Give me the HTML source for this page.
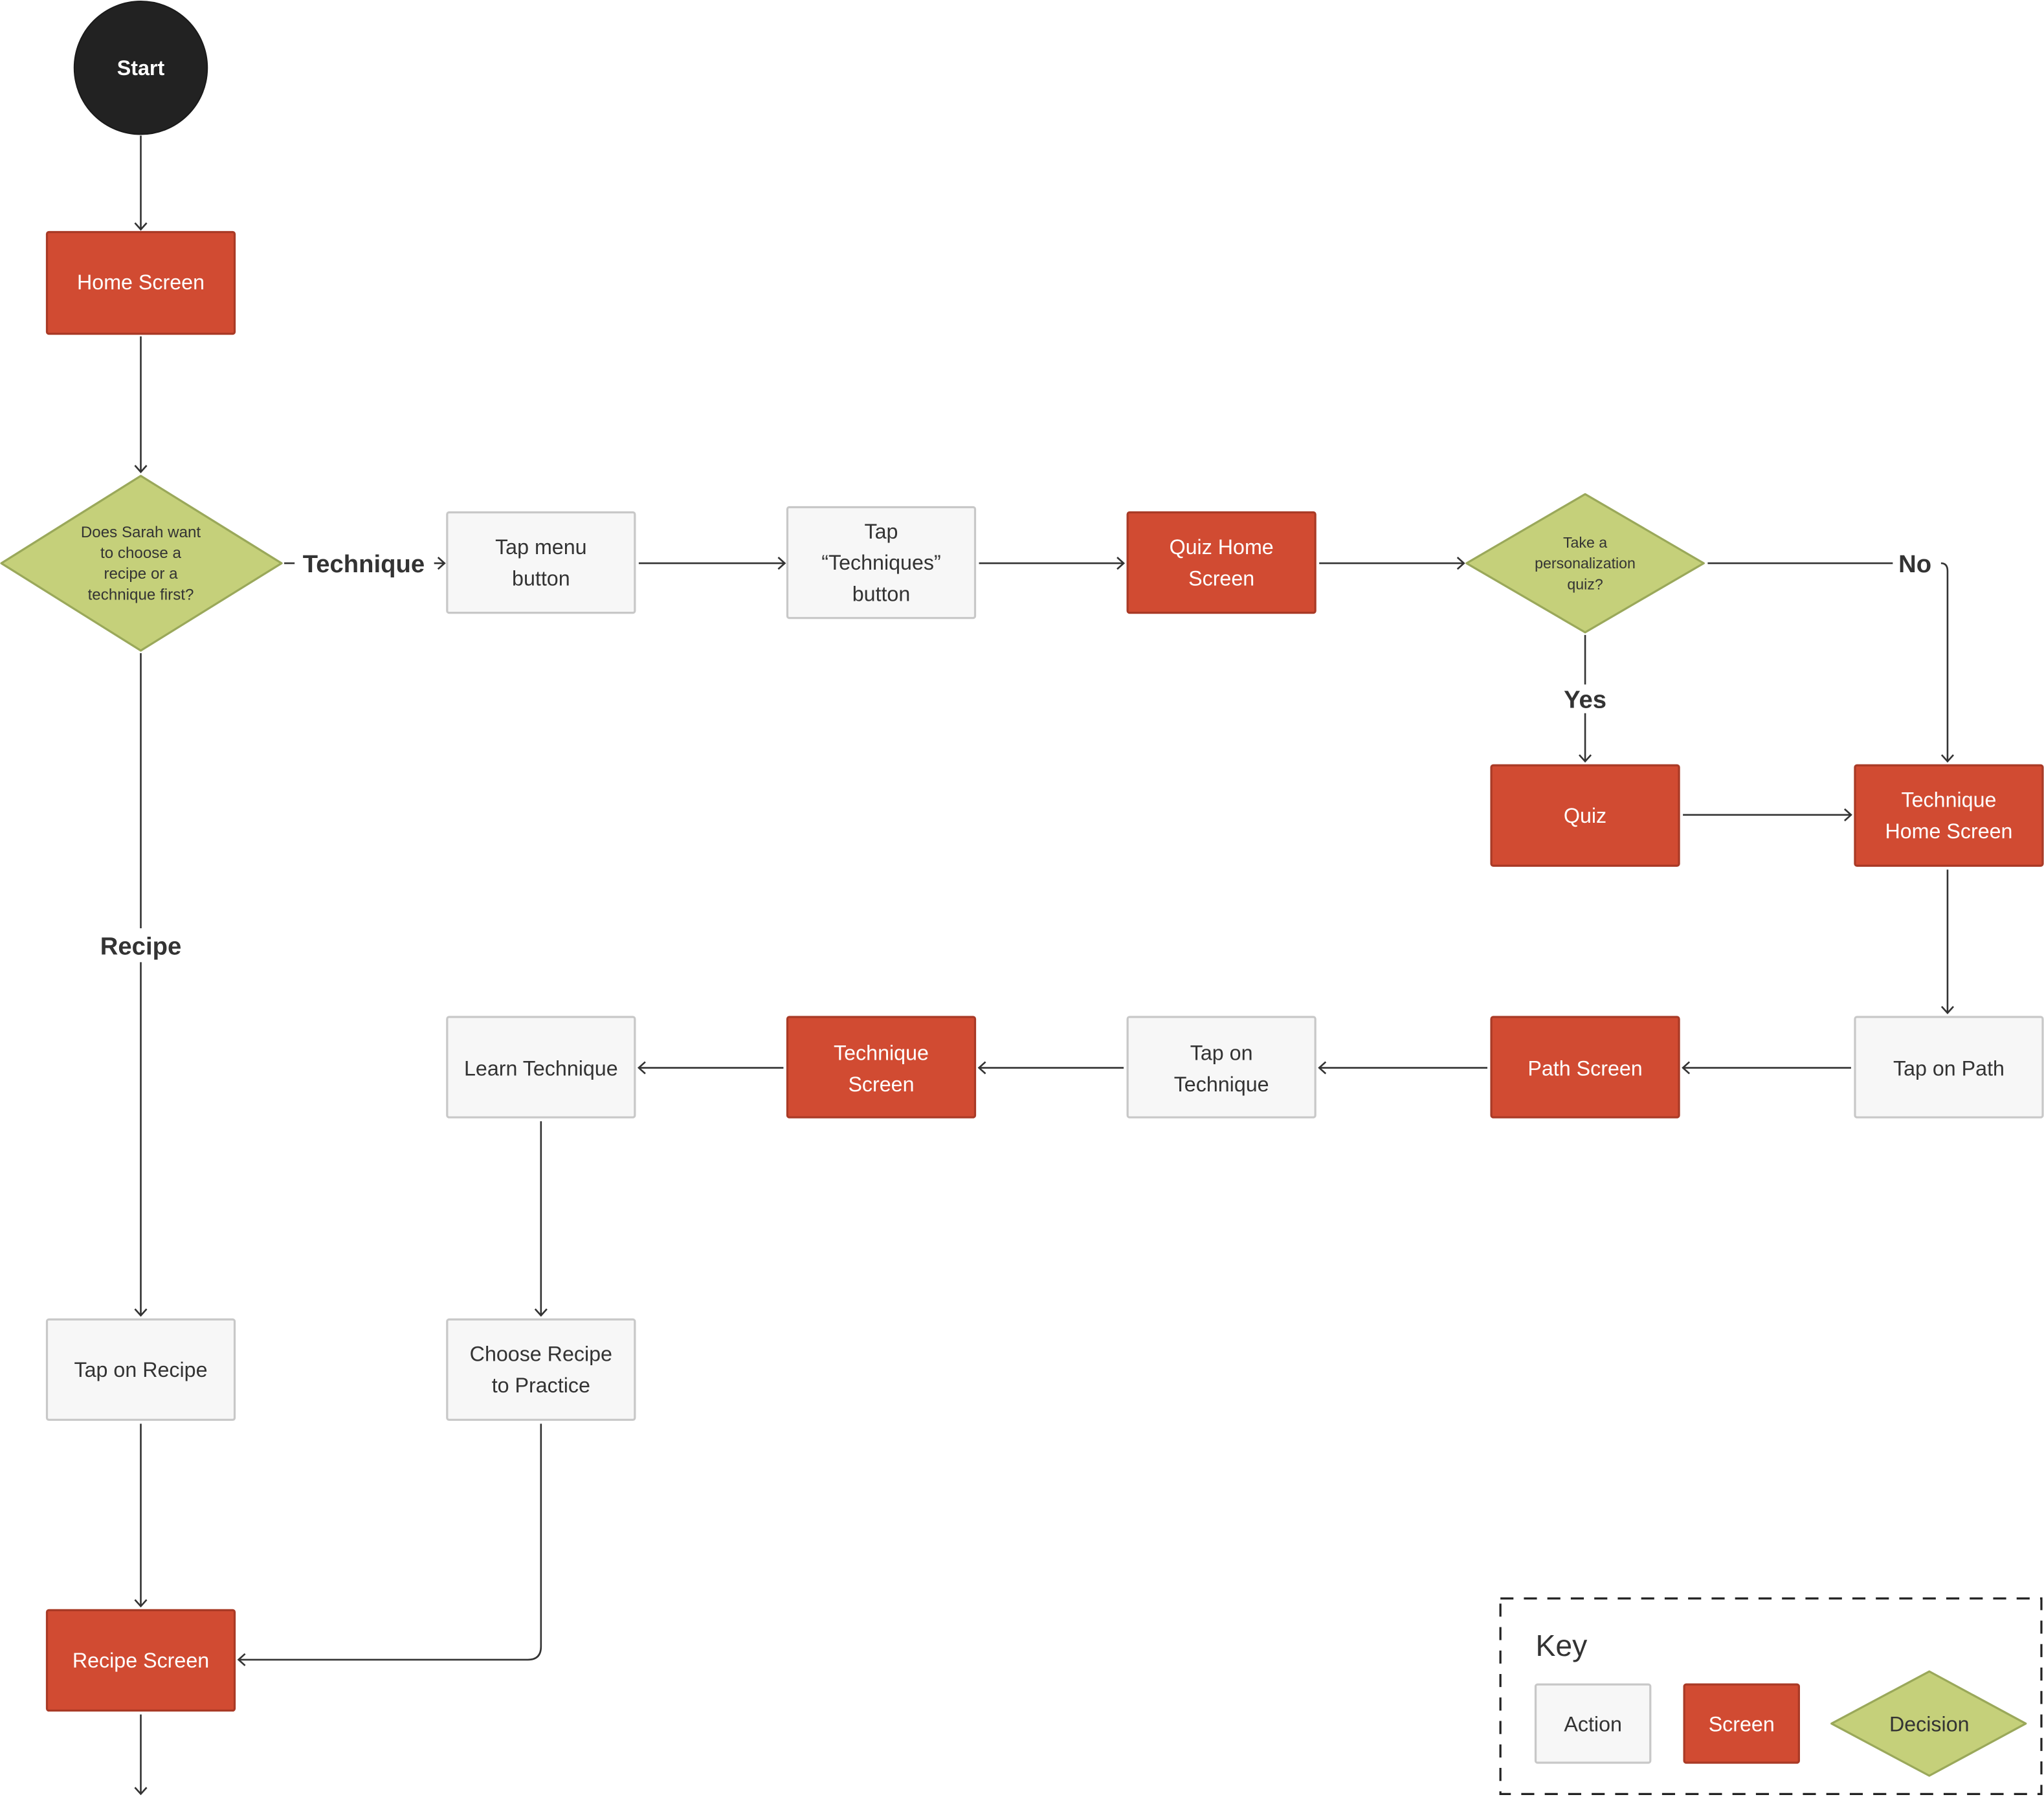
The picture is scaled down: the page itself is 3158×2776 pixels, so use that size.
<!DOCTYPE html>
<html><head><meta charset="utf-8"><style>
html,body{margin:0;padding:0;background:#fff}
svg{display:block}
text{font-family:"Liberation Sans",sans-serif;fill:#333}
.w{fill:#fff}
</style></head><body>
<svg width="3158" height="2776" viewBox="0 0 1568 1378.3" xmlns="http://www.w3.org/2000/svg">
<defs>
<marker id="a" markerUnits="userSpaceOnUse" markerWidth="12" markerHeight="12" refX="6" refY="5" orient="auto">
<path d="M1,0.5 L6,5 L1,9.5" fill="none" stroke="#333" stroke-width="1.3"/>
</marker>
</defs>
<g fill="none" stroke="#333" stroke-width="1.3">
<path d="M108,104 V176" marker-end="url(#a)"/>
<path d="M108,258 V362" marker-end="url(#a)"/>
<path d="M218,432 H226"/>
<path d="M333,432 H341" marker-end="url(#a)"/>
<path d="M490,432 H602" marker-end="url(#a)"/>
<path d="M751,432 H862" marker-end="url(#a)"/>
<path d="M1012,432 H1123" marker-end="url(#a)"/>
<path d="M1310,432 H1452"/>
<path d="M1489,432 Q1494,432 1494,438 V584" marker-end="url(#a)"/>
<path d="M1216,487 V525"/>
<path d="M1216,547 V584" marker-end="url(#a)"/>
<path d="M1291,625 H1420" marker-end="url(#a)"/>
<path d="M1494,667 V777" marker-end="url(#a)"/>
<path d="M1420,819 H1291" marker-end="url(#a)"/>
<path d="M1141,819 H1012" marker-end="url(#a)"/>
<path d="M862,819 H751" marker-end="url(#a)"/>
<path d="M601,819 H490" marker-end="url(#a)"/>
<path d="M415,860 V1009" marker-end="url(#a)"/>
<path d="M415,1092 V1263 Q415,1273 405,1273 H183" marker-end="url(#a)"/>
<path d="M108,501 V712"/>
<path d="M108,738 V1009" marker-end="url(#a)"/>
<path d="M108,1092 V1232" marker-end="url(#a)"/>
<path d="M108,1315 V1376" marker-end="url(#a)"/>
</g>
<circle cx="108" cy="52" r="51" fill="#222" stroke="#1a1a1a" stroke-width="1"/>
<text x="108" y="57.5" text-anchor="middle" font-size="16" font-weight="bold" class="w">Start</text>
<g stroke-width="1.6">
<g fill="#d14b32" stroke="#a93a26">
<rect x="36" y="178" width="144" height="78" rx="1.5"/>
<rect x="865" y="393" width="144" height="77" rx="1.5"/>
<rect x="1144" y="587" width="144" height="77" rx="1.5"/>
<rect x="1423" y="587" width="144" height="77" rx="1.5"/>
<rect x="1144" y="780" width="144" height="77" rx="1.5"/>
<rect x="604" y="780" width="144" height="77" rx="1.5"/>
<rect x="36" y="1235" width="144" height="77" rx="1.5"/>
<rect x="1292" y="1292" width="88" height="60" rx="1.5"/>
</g>
<g fill="#f7f7f7" stroke="#c8c8c8">
<rect x="343" y="393" width="144" height="77" rx="1.5"/>
<rect x="604" y="389" width="144" height="85" rx="1.5"/>
<rect x="1423" y="780" width="144" height="77" rx="1.5"/>
<rect x="865" y="780" width="144" height="77" rx="1.5"/>
<rect x="343" y="780" width="144" height="77" rx="1.5"/>
<rect x="36" y="1012" width="144" height="77" rx="1.5"/>
<rect x="343" y="1012" width="144" height="77" rx="1.5"/>
<rect x="1178" y="1292" width="88" height="60" rx="1.5"/>
</g>
<g fill="#c5d07a" stroke="#9aa85a" stroke-linejoin="round">
<polygon points="108,365 216,432 108,499 1,432"/>
<polygon points="1216,379 1307,432 1216,485 1125,432"/>
<polygon points="1480,1282 1554,1322 1480,1362 1405,1322"/>
</g>
</g>
<rect x="1151" y="1226" width="415" height="150" fill="none" stroke="#222" stroke-width="1.6" stroke-dasharray="10,8"/>
<g font-size="16" text-anchor="middle">
<text x="108" y="222" class="w">Home Screen</text>
<text x="415" y="425">Tap menu</text><text x="415" y="449">button</text>
<text x="676" y="413">Tap</text><text x="676" y="437">“Techniques”</text><text x="676" y="461">button</text>
<text x="937" y="425" class="w">Quiz Home</text><text x="937" y="449" class="w">Screen</text>
<text x="1216" y="631" class="w">Quiz</text>
<text x="1495" y="619" class="w">Technique</text><text x="1495" y="643" class="w">Home Screen</text>
<text x="1495" y="825">Tap on Path</text>
<text x="1216" y="825" class="w">Path Screen</text>
<text x="937" y="813">Tap on</text><text x="937" y="837">Technique</text>
<text x="676" y="813" class="w">Technique</text><text x="676" y="837" class="w">Screen</text>
<text x="415" y="825">Learn Technique</text>
<text x="108" y="1056">Tap on Recipe</text>
<text x="415" y="1044">Choose Recipe</text><text x="415" y="1068">to Practice</text>
<text x="108" y="1279" class="w">Recipe Screen</text>
<text x="1222" y="1328">Action</text>
<text x="1336" y="1328" class="w">Screen</text>
<text x="1480" y="1328">Decision</text>
</g>
<g font-size="12" text-anchor="middle">
<text x="108" y="412">Does Sarah want</text>
<text x="108" y="428">to choose a</text>
<text x="108" y="444">recipe or a</text>
<text x="108" y="460">technique first?</text>
</g>
<g font-size="11.5" text-anchor="middle">
<text x="1216" y="420">Take a</text>
<text x="1216" y="436">personalization</text>
<text x="1216" y="452">quiz?</text>
</g>
<g font-size="19" font-weight="bold" text-anchor="middle">
<text x="279" y="439">Technique</text>
<text x="1469" y="439">No</text>
<text x="1216" y="543">Yes</text>
<text x="108" y="732">Recipe</text>
</g>
<text x="1178" y="1270" font-size="23">Key</text>
</svg>
</body></html>
